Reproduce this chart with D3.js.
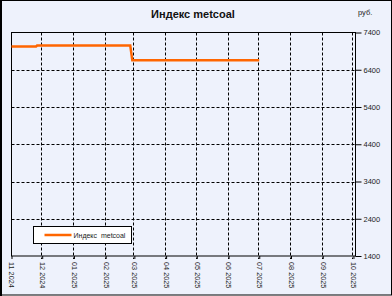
<!DOCTYPE html>
<html>
<head>
<meta charset="utf-8">
<script src="https://cdn.jsdelivr.net/npm/d3@7"></script>
<style>
  body { margin: 0; background: #fff; }
  svg text { font-family: "Liberation Sans", Arial, sans-serif; }
</style>
</head>
<body>
<script>
// series data
var dates  = ["2024-11-01", "2024-11-25", "2024-11-26", "2025-02-25", "2025-02-27", "2025-07-01"];
var values = [7025, 7025, 7050, 7050, 6653, 6653];

var yTicks = [1400, 2400, 3400, 4400, 5400, 6400, 7400];
var monthTicks = ["2024-11-01", "2024-12-01", "2025-01-01", "2025-02-01", "2025-03-01", "2025-04-01",
                  "2025-05-01", "2025-06-01", "2025-07-01", "2025-08-01", "2025-09-01", "2025-10-01"];

var seriesName = "Индекс  metcoal";
var title = "Индекс metcoal";
var unit = "руб.";

var width = 392, height = 296;
// plot box (not named "top" -- window.top is read only)
var plotL = 11.5, plotR = 355.5, plotT = 32.5, plotB = 256;

var parse = d3.timeParse("%Y-%m-%d");
var fmt = d3.timeFormat("%m %Y");

var svg = d3.select("body").append("svg")
    .attr("width", width)
    .attr("height", height);

// background + outer frame
svg.append("rect")
    .attr("x", 1).attr("y", 0.5)
    .attr("width", width - 1.5).attr("height", height - 1.5)
    .attr("fill", "#eef2fc")
    .attr("stroke", "#000")
    .attr("stroke-width", 1);
svg.append("line")
    .attr("x1", 1).attr("x2", 1).attr("y1", 0).attr("y2", height)
    .attr("stroke", "#000").attr("stroke-width", 2);

var x = d3.scaleTime()
    .domain([parse("2024-11-01"), parse("2025-10-03")])
    .range([plotL, plotR]);

var y = d3.scaleLinear()
    .domain([1400, 7400])
    .range([plotB, plotT]);

// horizontal grid
svg.append("g").selectAll("line")
    .data(yTicks.slice(1, -1))
    .enter().append("line")
    .attr("x1", plotL).attr("x2", plotR)
    .attr("y1", function(d) { return Math.round(y(d)) + 0.5; })
    .attr("y2", function(d) { return Math.round(y(d)) + 0.5; })
    .attr("stroke", "#000")
    .attr("stroke-dasharray", "3,2");

// vertical grid
svg.append("g").selectAll("line")
    .data(monthTicks.slice(1))
    .enter().append("line")
    .attr("x1", function(d) { return Math.round(x(parse(d))) - 0.5; })
    .attr("x2", function(d) { return Math.round(x(parse(d))) - 0.5; })
    .attr("y1", plotT).attr("y2", plotB + 3)
    .attr("stroke", "#000")
    .attr("stroke-dasharray", "3,2");

// plot frame
svg.append("rect")
    .attr("x", plotL).attr("y", plotT)
    .attr("width", plotR - plotL).attr("height", plotB - plotT)
    .attr("fill", "none")
    .attr("stroke", "#000");

// right axis
var yAxis = d3.axisRight(y)
    .tickValues(yTicks)
    .tickSize(6)
    .tickPadding(2)
    .tickFormat(d3.format("d"));

var gy = svg.append("g")
    .attr("transform", "translate(" + plotR + ",0)")
    .call(yAxis);
gy.select(".domain").remove();
gy.selectAll("text")
    .attr("font-size", "7.5px")
    .attr("fill", "#222")
    .attr("font-family", "Liberation Sans, Arial, sans-serif");

// bottom axis with rotated month labels
var xAxis = d3.axisBottom(x)
    .tickValues(monthTicks.map(parse))
    .tickSize(3)
    .tickFormat(fmt);

var gx = svg.append("g")
    .attr("transform", "translate(0," + plotB + ")")
    .call(xAxis);
gx.select(".domain").remove();
gx.selectAll("text")
    .attr("font-size", "7.3px")
    .attr("fill", "#222")
    .attr("font-family", "Liberation Sans, Arial, sans-serif")
    .attr("transform", "rotate(90)")
    .attr("text-anchor", "start")
    .attr("x", 6)
    .attr("y", 0)
    .attr("dy", "0.35em");

// the series
var points = dates.map(function(d, i) { return { date: parse(d), value: values[i] }; });
var line = d3.line()
    .x(function(d) { return x(d.date); })
    .y(function(d) { return y(d.value); });

svg.append("path")
    .datum(points)
    .attr("d", line)
    .attr("fill", "none")
    .attr("stroke", "#ff6600")
    .attr("stroke-width", 2.5);

// title and unit
svg.append("text")
    .attr("x", 193).attr("y", 18)
    .attr("text-anchor", "middle")
    .attr("font-size", "11px")
    .attr("font-weight", "bold")
    .attr("fill", "#111")
    .text(title);

svg.append("text")
    .attr("x", 358).attr("y", 15)
    .attr("font-size", "7.5px")
    .attr("fill", "#222")
    .text(unit);

// legend
var legend = svg.append("g").attr("transform", "translate(33.5,226.5)");
legend.append("rect")
    .attr("width", 98).attr("height", 17)
    .attr("fill", "#fff")
    .attr("stroke", "#000");
legend.append("line")
    .attr("x1", 11).attr("x2", 38)
    .attr("y1", 8.5).attr("y2", 8.5)
    .attr("stroke", "#ff6600")
    .attr("stroke-width", 2.5);
legend.append("text")
    .attr("x", 40).attr("y", 11)
    .attr("font-size", "7px")
    .attr("fill", "#222")
    .attr("xml:space", "preserve")
    .style("white-space", "pre")
    .text(seriesName);
</script>
</body>
</html>
